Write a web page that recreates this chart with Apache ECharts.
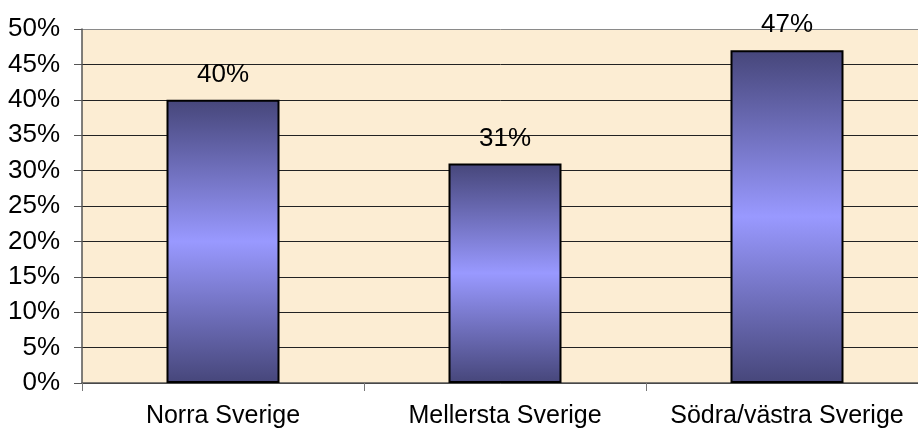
<!DOCTYPE html>
<html>
<head>
<meta charset="utf-8">
<script src="https://cdn.jsdelivr.net/npm/echarts@6/dist/echarts.min.js"></script>
<style>
  html, body { margin: 0; padding: 0; background: #fff; }
  #chart { width: 918px; height: 434px; }
</style>
</head>
<body>
<div id="chart"></div>
<script>
// kategorier och andelar (procent)
const regions = ['Norra Sverige', 'Mellersta Sverige', 'Södra/västra Sverige'];
const shares = [40, 31, 47];

const chart = echarts.init(document.getElementById('chart'));

// mörk - ljus - mörk, som i originalet
const barFill = new echarts.graphic.LinearGradient(0, 0, 0, 1, [
  { offset: 0, color: '#46467a' },
  { offset: 0.5, color: '#9999ff' },
  { offset: 1, color: '#46467a' }
]);

// översta linjen är grå, resten svarta
const gridColors = ['#222', '#222', '#222', '#222', '#222', '#222', '#222', '#222', '#222', '#222', '#8a8a8a'];

const option = {
  backgroundColor: '#ffffff',
  textStyle: { fontFamily: 'Liberation Sans, Arial, sans-serif' },
  grid: {
    left: 82,
    width: 846,
    top: 29,
    bottom: 51,
    outerBoundsMode: 'none',
    containLabel: false,
    show: true,
    backgroundColor: '#fcedd3',
    borderWidth: 0
  },
  xAxis: {
    type: 'category',
    data: regions,
    axisLine: { lineStyle: { color: '#555', width: 1.5 } },
    axisTick: { show: true, length: 8, lineStyle: { color: '#777' } },
    axisLabel: { color: '#000', fontSize: 25, margin: 21, interval: 0, hideOverlap: false }
  },
  yAxis: {
    type: 'value',
    min: 0,
    max: 50,
    interval: 5,
    axisLine: { show: true, lineStyle: { color: '#555', width: 1.5 } },
    axisTick: { show: true, length: 8, lineStyle: { color: '#555' } },
    axisLabel: { color: '#000', fontSize: 26, margin: 22, formatter: '{value}%' },
    splitLine: { show: true, lineStyle: { color: gridColors, width: 1 } }
  },
  series: [
    {
      type: 'bar',
      data: shares,
      barWidth: 113,
      itemStyle: {
        color: barFill,
        borderColor: '#000',
        borderWidth: 2
      },
      label: {
        show: true,
        position: 'top',
        distance: 12,
        color: '#000',
        fontSize: 26,
        formatter: '{c}%'
      }
    }
  ]
};

chart.setOption(option);
</script>
</body>
</html>
